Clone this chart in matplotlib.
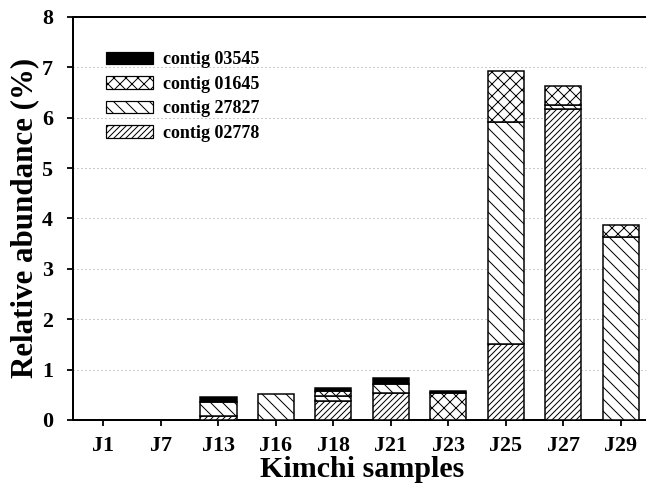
import matplotlib
matplotlib.use("Agg")
import matplotlib.pyplot as plt
import numpy as np
from matplotlib.patches import Patch

# data (relative abundance, %)
samples = ["J1", "J7", "J13", "J16", "J18", "J21", "J23", "J25", "J27", "J29"]
contig_02778 = [0, 0, 0.07, 0, 0.37, 0.53, 0, 1.51, 6.17, 0]
contig_27827 = [0, 0, 0.29, 0.52, 0.10, 0.18, 0, 4.41, 0.08, 3.64]
contig_01645 = [0, 0, 0, 0, 0.10, 0, 0.53, 1.01, 0.37, 0.23]
contig_03545 = [0, 0, 0.10, 0, 0.07, 0.12, 0.045, 0, 0, 0]

series = [
    ("contig 02778", contig_02778, "white", "////"),
    ("contig 27827", contig_27827, "white", "\\\\"),
    ("contig 01645", contig_01645, "white", "xx"),
    ("contig 03545", contig_03545, "black", None),
]

DPI = 72
plt.rcParams["font.family"] = ["Liberation Serif", "DejaVu Serif"]
plt.rcParams["font.weight"] = "bold"
plt.rcParams["hatch.color"] = "black"
plt.rcParams["hatch.linewidth"] = 1.0

fig = plt.figure(figsize=(646 / DPI, 497 / DPI), dpi=DPI)
ax = fig.add_axes([0.113, 0.155, 0.895, 0.811])

x = np.arange(len(samples))
bottom = np.zeros(len(samples))
handles = {}
for label, vals, face, hatch in series:
    vals = np.asarray(vals, dtype=float)
    mask = vals > 0
    ax.bar(x[mask], vals[mask], width=0.63, bottom=bottom[mask], color=face,
           edgecolor="black", linewidth=1.5, hatch=hatch, zorder=3)
    handles[label] = Patch(facecolor=face, edgecolor="black", linewidth=1.2, hatch=hatch)
    bottom += vals

ax.set_xlim(-0.53, 9.53)
ax.set_ylim(0, 8)
ax.set_xticks(x)
ax.set_xticklabels(samples)
ax.set_yticks(range(0, 9))
ax.tick_params(axis="both", labelsize=22, width=1.8, length=6, direction="out")
ax.tick_params(axis="y", pad=14)
ax.tick_params(axis="x", pad=10)
ax.yaxis.grid(True, linestyle=(0, (1, 3)), color="#999999", linewidth=1.0, zorder=0)
for sp in ax.spines.values():
    sp.set_linewidth(2)

ax.set_xlabel("Kimchi samples", fontsize=30, fontweight="bold", labelpad=0)
ax.set_ylabel("Relative abundance (%)", fontsize=31, fontweight="bold", labelpad=3)

order = ["contig 03545", "contig 01645", "contig 27827", "contig 02778"]
ax.legend([handles[k] for k in order], order, loc="upper left",
          bbox_to_anchor=(0.057, 0.915), frameon=False, fontsize=18,
          handlelength=2.6, handleheight=0.7, handletextpad=0.55,
          labelspacing=0.42, borderaxespad=0, borderpad=0)

fig.savefig("out.png", dpi=DPI)
